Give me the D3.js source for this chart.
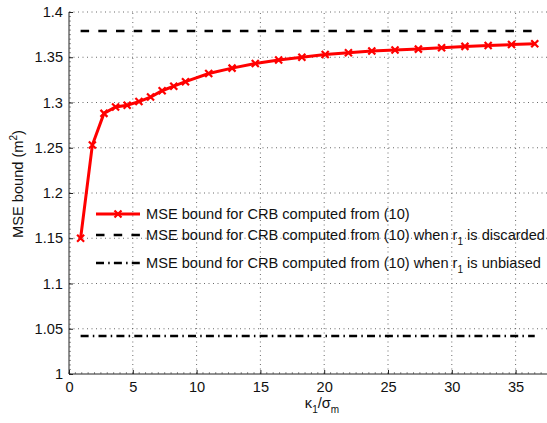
<!DOCTYPE html>
<html lang="en">
<head>
<meta charset="utf-8">
<title>MSE bound</title>
<script src="https://cdn.jsdelivr.net/npm/d3@7"></script>
<style>
  body { margin: 0; background: #fff; }
  text { font-family: "Liberation Sans", Arial, Helvetica, sans-serif; }
</style>
</head>
<body>
<script type="text/javascript">

// kappa_1 / sigma_m values of the red curve
var ratio = [0.91, 1.83, 2.74, 3.65, 4.56, 5.48, 6.39, 7.30, 8.21, 9.13,
             10.95, 12.78, 14.60, 16.43, 18.25, 20.08, 21.90, 23.73, 25.55,
             27.38, 29.20, 31.03, 32.85, 34.68, 36.50];
// MSE bound for CRB computed from (10)
var mseCrb = [1.150, 1.253, 1.288, 1.295, 1.297, 1.301, 1.306, 1.313, 1.318, 1.323,
              1.332, 1.338, 1.343, 1.347, 1.350, 1.353, 1.355, 1.357, 1.358,
              1.359, 1.3605, 1.362, 1.363, 1.364, 1.365];
// constant bounds
var mseDiscarded = 1.379;
var mseUnbiased = 1.042;

var xTicks = [0, 5, 10, 15, 20, 25, 30, 35];
var yTicks = [1, 1.05, 1.1, 1.15, 1.2, 1.25, 1.3, 1.35, 1.4];

var width = 547;
var height = 423;
var fs = 14.6;

var x = d3.scaleLinear().domain([0, 40]).range([69, 579.4]);
var y = d3.scaleLinear().domain([1, 1.4]).range([374, 12]);

var svg = d3.select("body")
            .append("svg")
            .attr("width", width)
            .attr("height", height);

// grid (dotted)
svg.append("g").selectAll("line")
   .data(xTicks.filter(function(d) { return d > 0; }))
   .enter()
   .append("line")
   .attr("x1", function(d) { return x(d); })
   .attr("x2", function(d) { return x(d); })
   .attr("y1", y(1))
   .attr("y2", y(1.4))
   .attr("stroke", "#444")
   .attr("stroke-width", 0.8)
   .attr("stroke-dasharray", "1,3.5");

svg.append("g").selectAll("line")
   .data(yTicks.filter(function(d) { return d > 1; }))
   .enter()
   .append("line")
   .attr("x1", x(0))
   .attr("x2", x(40))
   .attr("y1", function(d) { return y(d); })
   .attr("y2", function(d) { return y(d); })
   .attr("stroke", "#444")
   .attr("stroke-width", 0.8)
   .attr("stroke-dasharray", "1,3.5");

// minor ticks
svg.append("g").selectAll("line")
   .data(d3.range(0, 40.01, 0.5))
   .enter()
   .append("line")
   .attr("x1", function(d) { return x(d); })
   .attr("x2", function(d) { return x(d); })
   .attr("y1", y(1))
   .attr("y2", y(1) - 2)
   .attr("stroke", "#777")
   .attr("stroke-width", 0.8);

svg.append("g").selectAll("line")
   .data(d3.range(1, 1.4001, 0.005))
   .enter()
   .append("line")
   .attr("x1", x(0))
   .attr("x2", x(0) + 2)
   .attr("y1", function(d) { return y(d); })
   .attr("y2", function(d) { return y(d); })
   .attr("stroke", "#777")
   .attr("stroke-width", 0.8);

// axes (left + bottom only, ticks inward)
var xAxis = d3.axisBottom(x).tickValues(xTicks).tickSize(-4).tickPadding(8)
              .tickFormat(d3.format("d"));
var yAxis = d3.axisLeft(y).tickValues(yTicks).tickSize(-4).tickPadding(6)
              .tickFormat(function(d) { return d3.format("")(+d.toFixed(2)); });

var gx = svg.append("g")
            .attr("transform", "translate(0," + y(1) + ")")
            .call(xAxis);
var gy = svg.append("g")
            .attr("transform", "translate(" + x(0) + ",0)")
            .call(yAxis);

[gx, gy].forEach(function(g) {
  g.select(".domain").attr("stroke", "#222").attr("stroke-width", 1);
  g.selectAll(".tick line").attr("stroke", "#222");
  g.selectAll(".tick text")
   .attr("font-size", fs)
   .attr("fill", "#111")
   .style("font-family", "'Liberation Sans', Arial, sans-serif");
});
gx.select(".domain").attr("d", "M" + x(0) + ",0H" + x(40));
gy.select(".domain").attr("d", "M0," + y(1) + "V" + y(1.4));

// constant bounds
svg.append("line")
   .attr("x1", x(ratio[0]))
   .attr("x2", x(ratio[ratio.length - 1]))
   .attr("y1", y(mseDiscarded))
   .attr("y2", y(mseDiscarded))
   .attr("stroke", "#000")
   .attr("stroke-width", 2.6)
   .attr("stroke-dasharray", "8.5,9.2");

svg.append("line")
   .attr("x1", x(ratio[0]))
   .attr("x2", x(ratio[ratio.length - 1]))
   .attr("y1", y(mseUnbiased))
   .attr("y2", y(mseUnbiased))
   .attr("stroke", "#000")
   .attr("stroke-width", 2.6)
   .attr("stroke-dasharray", "8,4.2,1.5,4.2");

// red curve with x markers
var line = d3.line()
             .x(function(d, i) { return x(ratio[i]); })
             .y(function(d) { return y(d); });

svg.append("path")
   .datum(mseCrb)
   .attr("d", line)
   .attr("fill", "none")
   .attr("stroke", "#ff0000")
   .attr("stroke-width", 3);

var cross = "M-3.5,-3.5L3.5,3.5M-3.5,3.5L3.5,-3.5";

svg.append("g").selectAll("path")
   .data(mseCrb)
   .enter()
   .append("path")
   .attr("transform", function(d, i) { return "translate(" + x(ratio[i]) + "," + y(d) + ")"; })
   .attr("d", cross)
   .attr("stroke", "#ff0000")
   .attr("stroke-width", 2.2)
   .attr("fill", "none");

// legend (no box)
var legend = svg.append("g");
var rows = [214, 235, 263];

legend.append("line")
      .attr("x1", 96).attr("x2", 140).attr("y1", rows[0]).attr("y2", rows[0])
      .attr("stroke", "#ff0000").attr("stroke-width", 3);
legend.append("path")
      .attr("transform", "translate(118," + rows[0] + ")")
      .attr("d", cross)
      .attr("stroke", "#ff0000").attr("stroke-width", 2.2).attr("fill", "none");
legend.append("line")
      .attr("x1", 96).attr("x2", 140).attr("y1", rows[1]).attr("y2", rows[1])
      .attr("stroke", "#000").attr("stroke-width", 2.6)
      .attr("stroke-dasharray", "8.5,9.2");
legend.append("line")
      .attr("x1", 96).attr("x2", 140).attr("y1", rows[2]).attr("y2", rows[2])
      .attr("stroke", "#000").attr("stroke-width", 2.6)
      .attr("stroke-dasharray", "8,4.2,1.5,4.2");

var labels = [
  ["MSE bound for CRB computed from (10)", null, null],
  ["MSE bound for CRB computed from (10) when r", "1", " is discarded"],
  ["MSE bound for CRB computed from (10) when r", "1", " is unbiased"]
];

labels.forEach(function(l, i) {
  var t = legend.append("text")
                .attr("x", 146)
                .attr("y", rows[i] + 5)
                .attr("font-size", fs)
                .attr("fill", "#111");
  t.append("tspan").text(l[0]);
  if (l[1]) {
    t.append("tspan").attr("dy", 5).attr("font-size", 10).text(l[1]);
    t.append("tspan").attr("dy", -5).text(l[2]);
  }
});

// axis labels
var xl = svg.append("text")
            .attr("x", 322)
            .attr("y", 408)
            .attr("text-anchor", "middle")
            .attr("font-size", fs)
            .attr("fill", "#111");
xl.append("tspan").text("\u03ba");
xl.append("tspan").attr("dy", 5).attr("font-size", 10).text("1");
xl.append("tspan").attr("dy", -5).text("/\u03c3");
xl.append("tspan").attr("dy", 5).attr("font-size", 10).text("m");

var yl = svg.append("text")
            .attr("transform", "translate(23,184) rotate(-90)")
            .attr("text-anchor", "middle")
            .attr("font-size", fs)
            .attr("fill", "#111");
yl.append("tspan").text("MSE bound (m");
yl.append("tspan").attr("dy", -6).attr("font-size", 10).text("2");
yl.append("tspan").attr("dy", 6).text(")");

</script>
</body>
</html>
